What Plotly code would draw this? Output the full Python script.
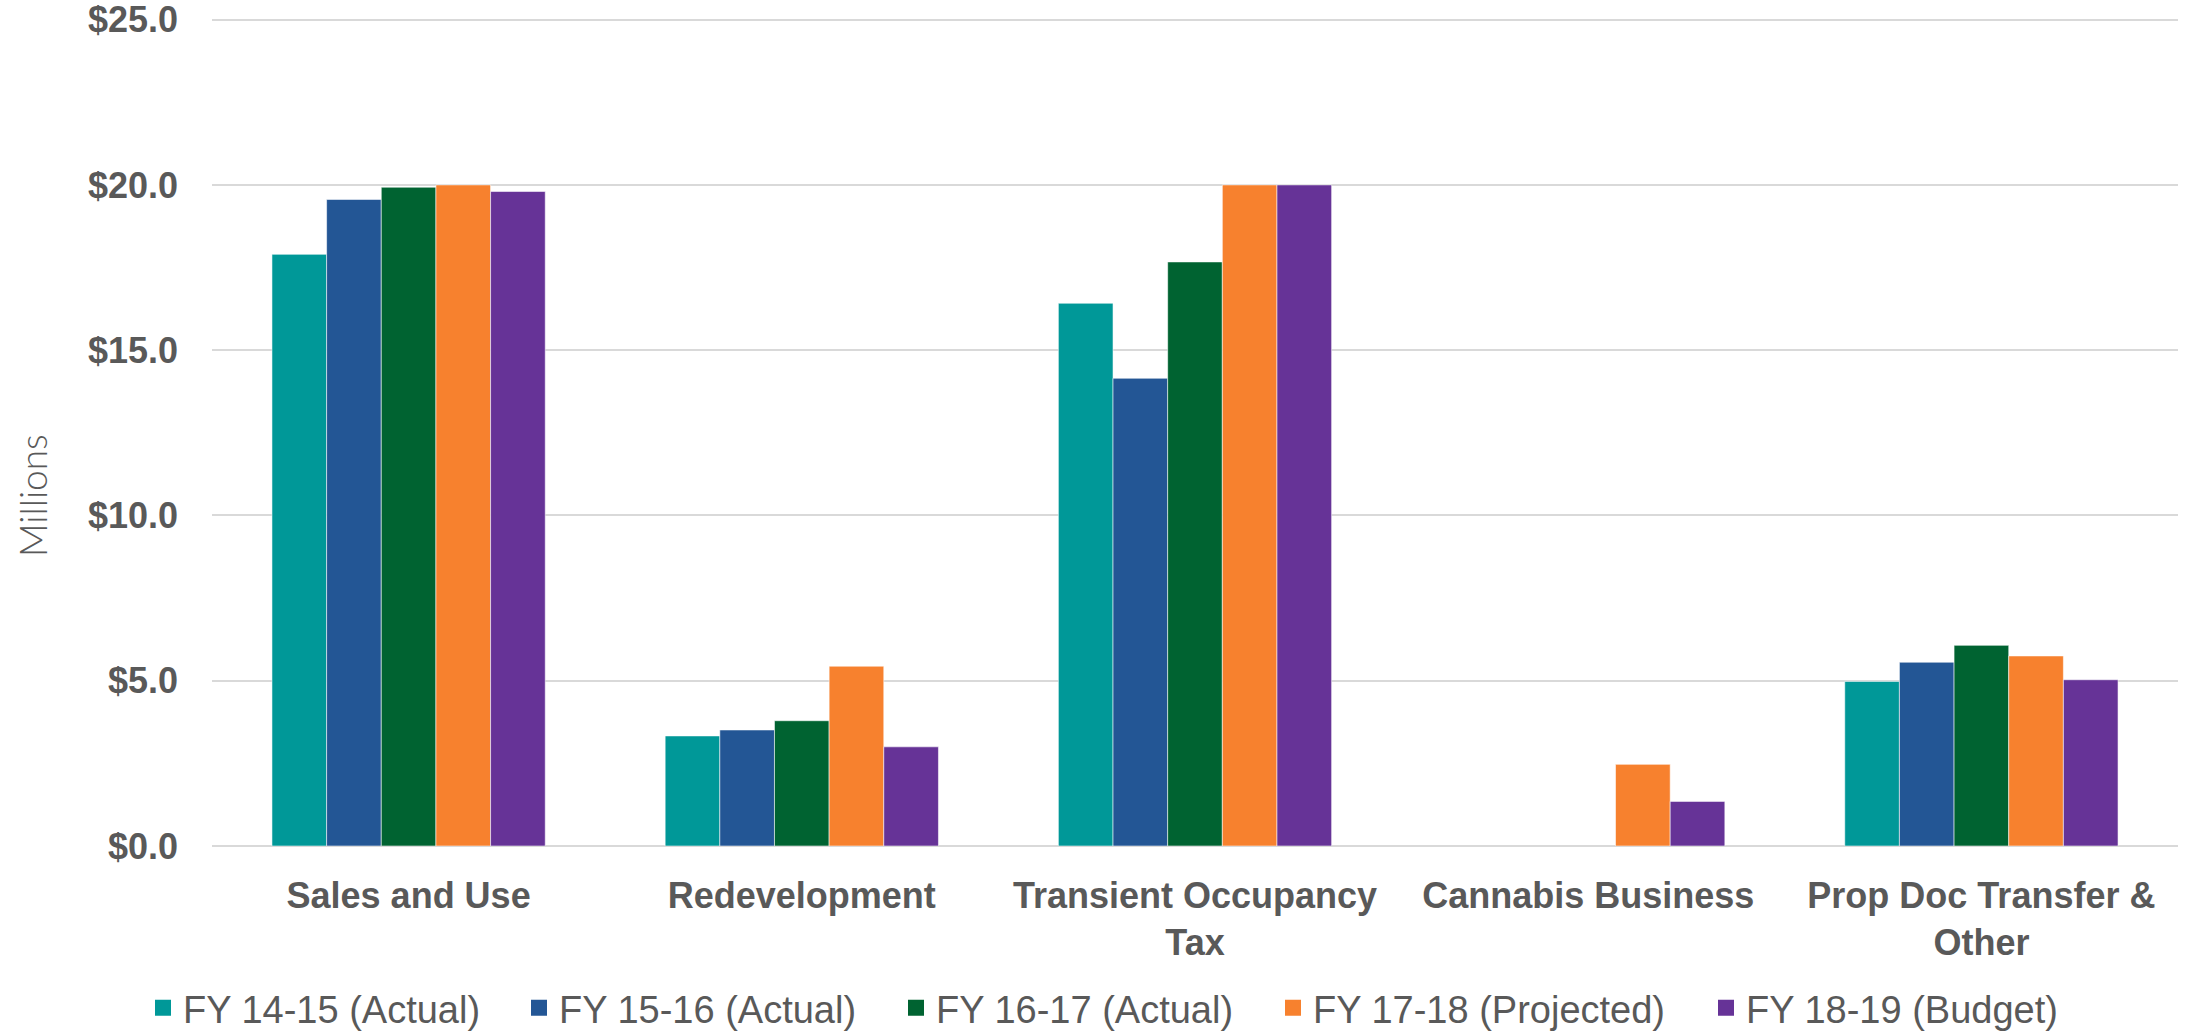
import plotly.graph_objects as go

# Revenue by source, in millions of dollars
categories = ["Sales and Use", "Redevelopment", "Transient Occupancy<br>Tax",
              "Cannabis Business", "Prop Doc Transfer &<br>Other"]
series_names = ["FY 14-15 (Actual)", "FY 15-16 (Actual)", "FY 16-17 (Actual)",
                "FY 17-18 (Projected)", "FY 18-19 (Budget)"]
fy_14_15 = [17.9, 3.33, 16.42, None, 4.98]
fy_15_16 = [19.56, 3.51, 14.15, None, 5.56]
fy_16_17 = [19.93, 3.79, 17.67, None, 6.07]
fy_17_18 = [20.0, 5.44, 20.0, 2.47, 5.75]
fy_18_19 = [19.8, 3.0, 20.0, 1.35, 5.03]
series_values = [fy_14_15, fy_15_16, fy_16_17, fy_17_18, fy_18_19]
colors = ["#009898", "#235695", "#006331", "#F7812E", "#663397"]

tick_vals = [0, 5, 10, 15, 20, 25]
tick_text = ["$0.0", "$5.0", "$10.0", "$15.0", "$20.0", "$25.0"]

text_color = "#595959"
grid_color = "#D9D9D9"
W, H = 2186, 1032

# left edge (px) of each legend entry along the bottom row
legend_left_px = [143, 519, 896, 1273, 1706]

fig = go.Figure()
for name, vals, col in zip(series_names, series_values, colors):
    fig.add_trace(go.Bar(
        x=categories, y=vals, name=name, showlegend=False,
        marker=dict(color=col, line=dict(color="rgba(255,255,255,0.55)", width=1)),
    ))

# square legend swatches, one legend box per series so each sits at its own spot
legend_layout = {}
for i, (name, col) in enumerate(zip(series_names, colors)):
    key = "legend" if i == 0 else f"legend{i + 1}"
    fig.add_trace(go.Scatter(
        x=[None], y=[None], mode="markers", name=name, legend=key,
        marker=dict(symbol="square", size=20, color=col),
    ))
    legend_layout[key] = dict(
        orientation="h", xref="container", x=legend_left_px[i] / W, xanchor="left",
        yref="container", y=(H - 1008) / H, yanchor="middle",
        font=dict(family="Liberation Sans", size=38, color=text_color),
        itemwidth=30, bgcolor="rgba(0,0,0,0)",
    )

fig.update_layout(
    width=W, height=H,
    margin=dict(l=212, r=8, t=17, b=186),
    plot_bgcolor="white", paper_bgcolor="white",
    barmode="group", bargap=0.305, bargroupgap=0,
    font=dict(family="Liberation Sans", color=text_color),
    xaxis=dict(
        showgrid=False, showline=False, ticks="", ticklabelstandoff=25,
        automargin=False,
        tickfont=dict(family="Liberation Sans", size=36, weight="bold", color=text_color),
    ),
    yaxis=dict(
        # small headroom above the top tick so its gridline stays inside the plot
        range=[0, 25.08], tickvals=tick_vals, ticktext=tick_text,
        showgrid=True, gridcolor=grid_color, gridwidth=1.5,
        zeroline=True, zerolinecolor=grid_color, zerolinewidth=2,
        showline=False, ticks="", ticklabelstandoff=33, ticklabeloverflow="allow",
        automargin=False,
        tickfont=dict(family="Liberation Sans", size=36, weight="bold", color=text_color),
    ),
    annotations=[dict(
        text="Millions", textangle=-90, showarrow=False,
        xref="paper", yref="paper", x=(32 - 212) / 1966, y=(846 - 496) / 829,
        xanchor="center", yanchor="middle",
        font=dict(family="Lato, Liberation Sans", size=37, weight=300, color=text_color),
    )],
    **legend_layout,
)

fig.write_html("out.html")
